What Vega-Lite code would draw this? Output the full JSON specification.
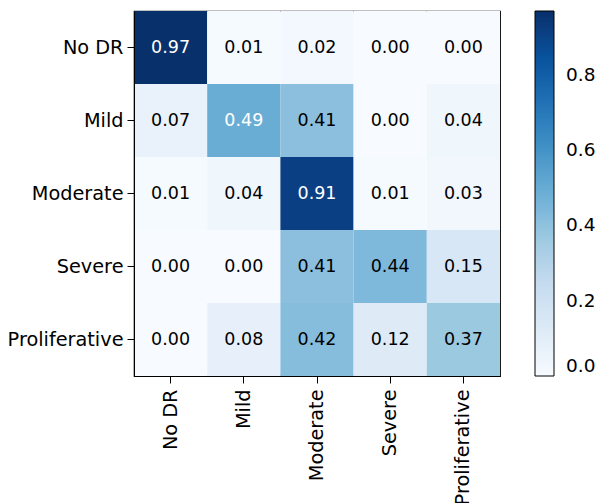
{
  "$schema": "https://vega.github.io/schema/vega-lite/v6.json",
  "width": 366,
  "height": 365,
  "autosize": {"type": "none"},
  "padding": {"left": 134, "top": 11, "right": 97, "bottom": 127},
  "background": "white",
  "config": {
    "font": "DejaVu Sans",
    "view": {"stroke": "black", "strokeWidth": 1.2},
    "axis": {"labelFont": "DejaVu Sans", "labelFontSize": 19.3, "labelColor": "black", "tickColor": "black", "domainColor": "black", "tickSize": 7, "labelPadding": 4, "grid": false, "title": null}
  },
  "data": {
    "values": [
      {"actual": "No DR", "pred": "No DR", "v": 0.97},
      {"actual": "No DR", "pred": "Mild", "v": 0.01},
      {"actual": "No DR", "pred": "Moderate", "v": 0.02},
      {"actual": "No DR", "pred": "Severe", "v": 0.00},
      {"actual": "No DR", "pred": "Proliferative", "v": 0.00},
      {"actual": "Mild", "pred": "No DR", "v": 0.07},
      {"actual": "Mild", "pred": "Mild", "v": 0.49},
      {"actual": "Mild", "pred": "Moderate", "v": 0.41},
      {"actual": "Mild", "pred": "Severe", "v": 0.00},
      {"actual": "Mild", "pred": "Proliferative", "v": 0.04},
      {"actual": "Moderate", "pred": "No DR", "v": 0.01},
      {"actual": "Moderate", "pred": "Mild", "v": 0.04},
      {"actual": "Moderate", "pred": "Moderate", "v": 0.91},
      {"actual": "Moderate", "pred": "Severe", "v": 0.01},
      {"actual": "Moderate", "pred": "Proliferative", "v": 0.03},
      {"actual": "Severe", "pred": "No DR", "v": 0.00},
      {"actual": "Severe", "pred": "Mild", "v": 0.00},
      {"actual": "Severe", "pred": "Moderate", "v": 0.41},
      {"actual": "Severe", "pred": "Severe", "v": 0.44},
      {"actual": "Severe", "pred": "Proliferative", "v": 0.15},
      {"actual": "Proliferative", "pred": "No DR", "v": 0.00},
      {"actual": "Proliferative", "pred": "Mild", "v": 0.08},
      {"actual": "Proliferative", "pred": "Moderate", "v": 0.42},
      {"actual": "Proliferative", "pred": "Severe", "v": 0.12},
      {"actual": "Proliferative", "pred": "Proliferative", "v": 0.37}
    ]
  },
  "encoding": {
    "x": {"field": "pred", "type": "nominal", "sort": ["No DR", "Mild", "Moderate", "Severe", "Proliferative"], "scale": {"paddingInner": 0, "paddingOuter": 0}, "axis": {"labelAngle": -90, "labelAlign": "right", "labelBaseline": "middle", "labelPadding": 6, "domain": true}},
    "y": {"field": "actual", "type": "nominal", "sort": ["No DR", "Mild", "Moderate", "Severe", "Proliferative"], "scale": {"paddingInner": 0, "paddingOuter": 0}}
  },
  "layer": [
    {
      "mark": {"type": "rect"},
      "encoding": {
        "color": {
          "field": "v", "type": "quantitative",
          "scale": {"domain": [0, 0.97], "range": ["#f7fbff", "#deebf7", "#c6dbef", "#9ecae1", "#6baed6", "#4292c6", "#2171b5", "#08519c", "#08306b"]},
          "legend": {
            "title": null, "orient": "none", "legendX": 401, "legendY": 0, "direction": "vertical",
            "gradientLength": 365, "gradientThickness": 19, "gradientStrokeColor": "black", "gradientStrokeWidth": 1,
            "values": [0, 0.2, 0.4, 0.6, 0.8], "format": ".1f", "labelFontSize": 18.5, "labelColor": "black", "labelFont": "DejaVu Sans", "labelOffset": 12, "labelOverlap": false
          }
        }
      }
    },
    {
      "mark": {"type": "text", "fontSize": 17.5, "font": "DejaVu Sans"},
      "encoding": {
        "text": {"field": "v", "type": "quantitative", "format": ".2f"},
        "color": {"condition": {"test": "datum.v > 0.485", "value": "white"}, "value": "black"}
      }
    }
  ]
}
